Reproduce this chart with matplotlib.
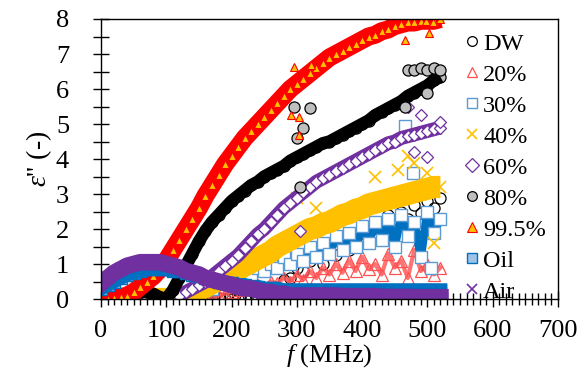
import numpy as np
import matplotlib
matplotlib.use("Agg")
from matplotlib import pyplot as plt
from matplotlib.ticker import MultipleLocator

plt.rcParams['font.family'] = ['Liberation Serif', 'DejaVu Serif']
plt.rcParams['mathtext.fontset'] = 'custom'
plt.rcParams['mathtext.rm'] = 'Liberation Serif'
plt.rcParams['mathtext.it'] = 'Liberation Serif:italic'

# frequency grid (MHz), one value every 10 MHz
freq = list(range(0, 530, 10))

dw = [0.0, 0.02, 0.0, 0.01, 0.0, 0.02, 0.0, 0.0, 0.01, 0.0,
      0.0, 0.01, 0.0, 0.02, 0.0, 0.0, 0.01, 0.0, 0.02, 0.0,
      0.0, 0.01, 0.0, 0.02, 0.05,
      0.1, 0.25, 0.3, 0.55, 0.6, 0.9, 0.8, 1.1, 1.2, 1.0, 1.35, 1.25, 1.6, 1.4,
      1.75, 1.6, 2.0, 1.8, 2.2, 2.4, 2.1, 2.5, 2.3, 2.7, 2.45, 2.8, 2.6, 2.9]

p20 = [0.0, 0.05, 0.1, 0.05, 0.1, 0.15, 0.1, 0.05, 0.1, 0.05,
       0.0, 0.05, 0.1, 0.05, 0.0, 0.05, 0.1, 0.05, 0.1, 0.15,
       0.2, 0.25, 0.3, 0.3, 0.4, 0.35, 0.5, 0.45, 0.6, 0.5,
       0.7, 0.55, 0.8, 0.6, 0.9, 0.7, 1.0, 0.75, 1.1, 0.8,
       1.2, 0.85, 1.0, 0.7, 1.3, 0.9, 1.1, 0.6, 1.4, 0.8, 1.0, 0.7, 0.9]

p30 = [0.0, 0.0, 0.05, 0.0, 0.05, 0.0, 0.0, 0.05, 0.0, 0.05,
       0.0, 0.05, 0.1, 0.05, 0.1,
       0.15, 0.25, 0.3, 0.45, 0.5, 0.65, 0.6, 0.8, 0.7, 0.9,
       0.8, 1.0, 0.9, 1.2, 1.0, 1.3, 1.1, 1.5, 1.2, 1.6,
       1.3, 1.8, 1.4, 1.9, 1.5, 2.1, 1.6, 2.2, 1.7, 2.3,
       1.5, 2.4, 1.8, 2.2, 1.2, 2.5, 1.9, 2.3]

p40 = [0.0, 0.0, 0.0, 0.0, 0.0, 0.0, 0.0, 0.0, 0.0, 0.0, 0.0, 0.0, 0.0, 0.02,
       0.1, 0.25, 0.35, 0.45, 0.55, 0.65, 0.75, 0.85, 0.95, 1.05,
       1.15, 1.25, 1.35, 1.5, 1.6, 1.7, 1.8, 1.9, 2.0, 2.05,
       2.15, 2.2, 2.3, 2.4, 2.45, 2.55, 2.6, 2.7, 2.75, 2.8,
       2.85, 2.9, 2.95, 3.0, 3.05, 3.1, 3.15, 3.2, 3.2]

p60 = [0.0, 0.0, 0.0, 0.0, 0.0, 0.0, 0.0, 0.0, 0.0, 0.0, 0.0, 0.0,
       0.1, 0.2, 0.3, 0.4, 0.5, 0.65, 0.8, 0.95, 1.1, 1.25, 1.45, 1.65, 1.85,
       2.0, 2.2, 2.4, 2.6, 2.75, 2.9, 3.05, 3.2, 3.35, 3.45, 3.55, 3.65, 3.75,
       3.85, 3.95, 4.05, 4.15, 4.25, 4.35, 4.45, 4.5, 4.6, 4.65, 4.7, 4.75,
       4.8, 4.85, 4.9]

p80 = [0.0, 0.0, 0.0, 0.05, 0.1, 0.15, 0.2, 0.2, 0.15, 0.05,
       0.0, 0.25, 0.6, 0.95, 1.3, 1.65, 1.95, 2.2, 2.4, 2.6,
       2.8, 2.95, 3.1, 3.25, 3.35, 3.5, 3.6, 3.7, 3.8, 3.95,
       4.05, 4.15, 4.25, 4.35, 4.45, 4.5, 4.6, 4.7, 4.8, 4.9,
       5.0, 5.1, 5.25, 5.35, 5.45, 5.55, 5.65, 5.8, 5.9, 6.0,
       6.1, 6.25, 6.35]

p995 = [0.0, 0.0, 0.02, 0.05, 0.1, 0.2, 0.35, 0.5, 0.65, 0.85,
        1.1, 1.4, 1.7, 2.0, 2.3, 2.6, 2.95, 3.25, 3.55, 3.85,
        4.1, 4.35, 4.6, 4.8, 5.0, 5.2, 5.4, 5.6, 5.8, 6.0,
        6.15, 6.3, 6.45, 6.6, 6.75, 6.9, 7.0, 7.1, 7.2, 7.3,
        7.4, 7.5, 7.55, 7.65, 7.7, 7.8, 7.85, 7.9, 7.9, 7.95,
        7.95, 7.95, 8.0]

oil = [0.3, 0.4, 0.5, 0.6, 0.7, 0.75, 0.8, 0.85, 0.85, 0.85,
       0.85, 0.8, 0.8, 0.75, 0.7, 0.65, 0.6, 0.55, 0.5, 0.45,
       0.45, 0.4, 0.4, 0.35, 0.35, 0.3, 0.3, 0.3, 0.25, 0.25,
       0.25, 0.25, 0.25, 0.25, 0.25, 0.25, 0.25, 0.25, 0.25, 0.25,
       0.25, 0.25, 0.25, 0.25, 0.25, 0.25, 0.25, 0.25, 0.25, 0.25,
       0.25, 0.25, 0.25]

air = [0.45, 0.6, 0.75, 0.85, 0.95, 1.0, 1.05, 1.05, 1.05, 1.05,
       1.0, 0.95, 0.9, 0.8, 0.75, 0.7, 0.6, 0.55, 0.5, 0.45,
       0.4, 0.35, 0.3, 0.3, 0.25, 0.2, 0.2, 0.15, 0.15, 0.1,
       0.1, 0.1, 0.1, 0.1, 0.1, 0.1, 0.1, 0.08, 0.08, 0.08,
       0.08, 0.08, 0.08, 0.06, 0.06, 0.06, 0.06, 0.06, 0.05, 0.05,
       0.05, 0.05, 0.05]

# scattered points off the main bands
out995_f = [295, 322, 291, 303, 303, 465, 498, 509, 502]
out995_y = [6.63, 6.7, 5.26, 5.2, 4.69, 7.4, 7.94, 7.9, 7.6]
out80_f = [295, 300, 320, 305, 470, 480, 490, 500, 510, 520, 500, 465, 310]
out80_y = [5.5, 4.6, 5.45, 3.2, 6.55, 6.55, 6.6, 6.55, 6.6, 6.55, 5.9, 5.5, 4.9]
out60_f = [470, 490, 500, 305, 480, 520]
out60_y = [5.5, 5.25, 4.05, 1.95, 4.2, 5.05]
out40_f = [300, 330, 420, 455, 470, 480, 500, 510]
out40_y = [2.9, 2.6, 3.5, 3.7, 4.1, 3.9, 3.6, 1.6]
out30_f = [465, 478, 505]
out30_y = [4.95, 3.6, 0.9]

fig = plt.figure(figsize=(5.86, 3.74), dpi=100)
ax = fig.add_axes([0.1724, 0.2005, 0.7796, 0.7487])

ms = 8
# DW
ax.plot(freq, dw, 'o', ms=ms, mfc='none', mec='black', mew=0.9, label='DW')
# 20%
ax.plot(freq, p20, lw=3, color='#ff5050', alpha=0.8)
ax.plot(freq, p20, '^', ms=ms, mfc='none', mec='#ff5050', mew=0.9, label='20%')
# 30%
ax.plot(freq, p30, lw=6, color='#0070c0')
ax.plot(freq + out30_f, p30 + out30_y, 's', ms=ms, mfc='white', mec='#5b9bd5',
        mew=1.0, label='30%', ls='none')
# 40%
ax.plot(freq, p40, lw=16, color='#ffc000', solid_capstyle='butt')
ax.plot(freq + out40_f, p40 + out40_y, 'x', ms=ms, mec='#ffc000', mew=1.2,
        label='40%', ls='none')
# 60%
ax.plot(freq, p60, lw=10, color='#7030a0', solid_capstyle='butt')
ax.plot(freq + out60_f, p60 + out60_y, 'D', ms=6.5, mfc='white', mec='#7030a0',
        mew=0.9, label='60%', ls='none')
# 80%
ax.plot(freq, p80, 'o', ms=ms, mfc='#bfbfbf', mec='black', mew=0.9, label='80%')
ax.plot(freq, p80, lw=9, color='black', solid_capstyle='butt')
ax.plot(out80_f, out80_y, 'o', ms=ms, mfc='#bfbfbf', mec='black', mew=0.9, ls='none')
# 99.5%
ax.plot(freq, p995, lw=13, color='red', solid_capstyle='butt')
ax.plot(freq + out995_f, p995 + out995_y, '^', ms=5.5, mfc='#ffc000', mec='red',
        mew=0.8, label='99.5%', ls='none')
# Oil
ax.plot(freq, oil, 's', ms=ms, mfc='#9dc3e6', mec='#0070c0', mew=1.0, label='Oil')
ax.plot(freq, oil, lw=10, color='#0070c0')
# Air
ax.plot(freq, air, lw=12, color='#7030a0')
ax.plot(freq, air, 'x', ms=ms, mec='#7030a0', mew=1.2, label='Air')

ax.set_xlim(0, 700)
ax.set_ylim(0, 8)
ax.xaxis.set_major_locator(MultipleLocator(100))
ax.xaxis.set_minor_locator(MultipleLocator(10))
ax.yaxis.set_major_locator(MultipleLocator(1))
ax.yaxis.set_minor_locator(MultipleLocator(0.5))
ax.tick_params(which='both', direction='inout', length=12, width=1.0, labelsize=19,
               top=False, right=False)
ax.tick_params(axis='x', which='major', pad=9)
ax.tick_params(axis='y', which='major', pad=17)
ax.tick_params(axis='x', which='minor', length=8)
for s in ax.spines.values():
    s.set_linewidth(1.0)

ax.set_xlabel(r'$f$ (MHz)', fontsize=19, labelpad=0)
ax.set_ylabel(r"$ε$'' (-)", fontsize=20, labelpad=1)

leg = ax.legend(loc='upper left', bbox_to_anchor=(0.775, 0.985), frameon=False,
                fontsize=17.5, handlelength=0.6, handletextpad=0.15,
                labelspacing=0.37, borderaxespad=0)
for h in leg.legend_handles:
    h.set_markersize(7)

fig.savefig('out.png', dpi=100)
